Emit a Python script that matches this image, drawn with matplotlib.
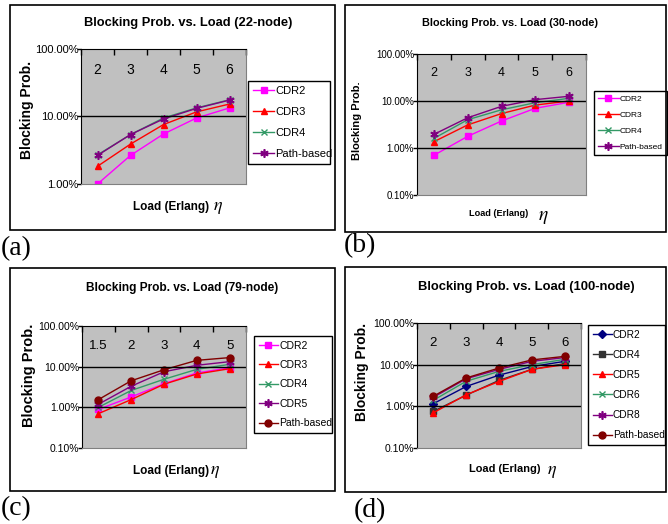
import matplotlib
matplotlib.use("Agg")
import matplotlib.pyplot as plt
from matplotlib.patches import Rectangle
from matplotlib.ticker import FixedLocator, FuncFormatter, NullFormatter

plt.rcParams['font.family'] = ['Liberation Sans', 'DejaVu Sans']
plt.rcParams['mathtext.fontset'] = 'stix'

W, H = 668, 524

# ---- data (blocking probability, %) ----
loads_a = ['2', '3', '4', '5', '6']
a_cdr2 = [1.0, 2.65, 5.5, 9.5, 13.4]
a_cdr3 = [1.83, 3.9, 7.6, 11.7, 15.3]
a_cdr4 = [2.7, 5.4, 9.5, 13.4, 17.7]
a_path = [2.65, 5.4, 9.2, 13.2, 17.5]

loads_b = ['2', '3', '4', '5', '6']
b_cdr2 = [0.70, 1.77, 3.75, 7.0, 9.4]
b_cdr3 = [1.36, 3.1, 5.4, 8.2, 10.0]
b_cdr4 = [1.6, 4.0, 6.5, 9.2, 11.4]
b_path = [1.95, 4.4, 7.7, 10.7, 12.6]

loads_c = ['1.5', '2', '3', '4', '5']
c_cdr2 = [0.89, 1.8, 3.8, 7.0, 9.4]
c_cdr3 = [0.70, 1.55, 3.7, 6.6, 8.9]
c_cdr4 = [1.0, 2.6, 4.9, 8.6, 11.4]
c_cdr5 = [1.19, 3.3, 7.5, 10.8, 13.3]
c_path = [1.55, 4.5, 8.4, 14.3, 16.7]

loads_d = ['2', '3', '4', '5', '6']
d_cdr2 = [1.16, 3.0, 5.6, 9.0, 12.0]
d_cdr4 = [0.76, 1.85, 4.2, 7.7, 10.6]
d_cdr5 = [0.70, 1.9, 3.95, 7.7, 10.0]
d_cdr6 = [1.4, 4.0, 6.9, 10.0, 13.4]
d_cdr8 = [1.65, 4.6, 7.7, 12.0, 14.8]
d_path = [1.75, 4.8, 8.3, 13.0, 15.8]

# series styles
MAG = dict(color='#FF00FF', marker='s', ms=5)
RED = dict(color='#FF0000', marker='^', ms=5)
GRN = dict(color='#339966', marker='x', ms=5, mew=1)
PUR = dict(color='#800080', marker=(6, 2, 0), ms=6, mew=1.2)
DRD = dict(color='#800000', marker='o', ms=5)
NAV = dict(color='#000080', marker='D', ms=4)
BLK = dict(color='#333333', marker='s', ms=5)

fig = plt.figure(figsize=(W / 100, H / 100), dpi=100)


def fx(x):
    return x / W


def fy(y):
    return 1 - y / H


def box(x0, y0, x1, y1):
    return [fx(x0), fy(y1), (x1 - x0) / W, (y1 - y0) / H]


def draw_panel(border, plot, legbox, cats, series, ymin, title, title_xy, fs,
               ylab_xy, xlab_xy, eta_xy, letter, letter_xy):
    bx0, by0, bx1, by1 = border
    fig.patches.append(Rectangle((fx(bx0), fy(by1)), (bx1 - bx0) / W, (by1 - by0) / H,
                                 transform=fig.transFigure, fill=False,
                                 edgecolor='black', lw=1.2))
    ax = fig.add_axes(box(*plot))
    ax.set_facecolor('#C0C0C0')
    xs = list(range(len(cats)))
    for label, vals, st in series:
        ax.plot(xs, vals, label=label, lw=1.0, markeredgecolor=st['color'], **st)
    ax.set_yscale('log')
    ax.set_ylim(ymin, 100)
    ax.set_xlim(-0.5, len(cats) - 0.5)
    yt = [v for v in [0.1, 1, 10, 100] if v >= ymin]
    ax.yaxis.set_major_locator(FixedLocator(yt))
    ax.yaxis.set_minor_locator(FixedLocator([]))
    ax.yaxis.set_major_formatter(FuncFormatter(lambda v, p: f"{v:.2f}%"))
    ax.tick_params(axis='y', labelsize=fs['tick'], length=3, width=1, pad=-1)
    for v in yt[1:-1]:
        ax.axhline(v, color='black', lw=1.0)
    # categories printed inside the top of the plot area
    ax.xaxis.set_major_locator(FixedLocator([i - 0.5 for i in range(len(cats) + 1)]))
    ax.xaxis.set_major_formatter(NullFormatter())
    ax.xaxis.set_minor_locator(FixedLocator(xs))
    ax.set_xticklabels(cats, minor=True)
    ax.tick_params(axis='x', which='major', top=True, bottom=False, direction='in',
                   length=4, width=1)
    ax.tick_params(axis='x', which='minor', top=True, bottom=False, labeltop=True,
                   labelbottom=False, length=0, pad=-fs['cat'] * 2.0,
                   labelsize=fs['cat'])
    ax.spines['left'].set_color('black')
    ax.spines['top'].set_color('black')
    ax.spines['right'].set_color('#808080')
    ax.spines['bottom'].set_color('#808080')
    lx0, ly0, lx1, ly1 = legbox
    leg = ax.legend(loc='upper left', bbox_to_anchor=box(lx0, ly0, lx1, ly1),
                    bbox_transform=fig.transFigure, mode='expand', fancybox=False,
                    edgecolor='black', framealpha=1, fontsize=fs['leg'],
                    handlelength=fs['hl'], handletextpad=0.1, borderpad=0.45,
                    borderaxespad=0, labelspacing=fs['sp'])
    leg.get_frame().set_linewidth(1.0)
    fig.text(fx(title_xy[0]), fy(title_xy[1]), title, ha='center', va='center',
             fontsize=fs['title'], fontweight='bold')
    fig.text(fx(ylab_xy[0]), fy(ylab_xy[1]), 'Blocking Prob.', ha='center', va='center',
             rotation=90, fontsize=fs['ylab'], fontweight='bold')
    fig.text(fx(xlab_xy[0]), fy(xlab_xy[1]), 'Load (Erlang)', ha='center', va='center',
             fontsize=fs['xlab'], fontweight='bold')
    fig.text(fx(eta_xy[0]), fy(eta_xy[1]), r'$\eta$', ha='center', va='center',
             fontsize=fs['eta'])
    fig.text(fx(letter_xy[0]), fy(letter_xy[1]), letter, ha='left', va='center',
             fontsize=20, family='Liberation Serif')
    return ax


fs_a = dict(tick=8, cat=10, leg=8, title=9.25, ylab=10, xlab=8.5, eta=13, sp=1.0, hl=1.9)
draw_panel((10, 5, 335, 230), (81, 49, 246, 184), (248, 81, 330, 163), loads_a,
           [('CDR2', a_cdr2, MAG), ('CDR3', a_cdr3, RED), ('CDR4', a_cdr4, GRN),
            ('Path-based', a_path, PUR)],
           1, 'Blocking Prob. vs. Load (22-node)', (188, 23), fs_a,
           (27, 110), (171, 207), (218, 208), '(a)', (1, 249))

fs_b = dict(tick=7, cat=9, leg=6, title=7.85, ylab=8, xlab=6.6, eta=14, sp=1.0, hl=2.5)
draw_panel((345, 5, 666, 232), (417, 54, 586, 195), (594, 91, 667, 157), loads_b,
           [('CDR2', b_cdr2, MAG), ('CDR3', b_cdr3, RED), ('CDR4', b_cdr4, GRN),
            ('Path-based', b_path, PUR)],
           0.1, 'Blocking Prob. vs. Load (30-node)', (510, 23), fs_b,
           (357, 121), (499, 213), (543, 218), '(b)', (344, 246))

fs_c = dict(tick=7.5, cat=9.5, leg=7.5, title=8.6, ylab=10.5, xlab=8.5, eta=13, sp=0.9, hl=1.85)
draw_panel((10, 268, 335, 491), (82, 326, 246, 448), (254, 336, 332, 436), loads_c,
           [('CDR2', c_cdr2, MAG), ('CDR3', c_cdr3, RED), ('CDR4', c_cdr4, GRN),
            ('CDR5', c_cdr5, PUR), ('Path-based', c_path, DRD)],
           0.1, 'Blocking Prob. vs. Load (79-node)', (182, 288), fs_c,
           (29, 375), (171, 471), (215, 472), '(c)', (1, 509))

fs_d = dict(tick=7.5, cat=9.5, leg=7.3, title=9.4, ylab=10, xlab=7.9, eta=13, sp=1.0, hl=1.9)
draw_panel((345, 267, 666, 492), (417, 323, 581, 448), (588, 325, 665, 446), loads_d,
           [('CDR2', d_cdr2, NAV), ('CDR4', d_cdr4, BLK), ('CDR5', d_cdr5, RED),
            ('CDR6', d_cdr6, GRN), ('CDR8', d_cdr8, PUR), ('Path-based', d_path, DRD)],
           0.1, 'Blocking Prob. vs. Load (100-node)', (526, 287), fs_d,
           (362, 372), (505, 469), (552, 471), '(d)', (354, 511))

fig.savefig('out.png', dpi=100)
